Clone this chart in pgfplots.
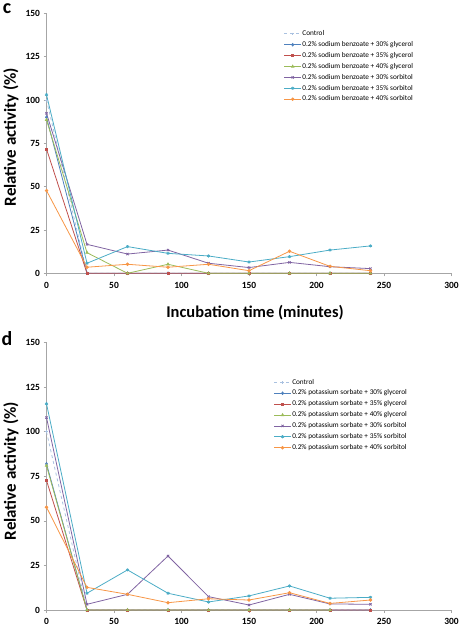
\documentclass[border=0pt]{standalone}
\usepackage{pgfplots}
\pgfplotsset{compat=1.18}
\usepackage{fontspec}
\setmainfont{Carlito}
\definecolor{cblue}{HTML}{4F81BD}
\definecolor{cred}{HTML}{C0504D}
\definecolor{cgreen}{HTML}{9BBB59}
\definecolor{cpurple}{HTML}{8064A2}
\definecolor{ccyan}{HTML}{4BACC6}
\definecolor{corange}{HTML}{F79646}
\definecolor{cctrl}{HTML}{A9C1E0}
\definecolor{axgray}{HTML}{A6A6A6}
\pgfplotsset{
  panel/.style={
    scale only axis, width=405bp,
    xmin=0, xmax=300, ymin=0, ymax=150,
    xtick={0,50,...,300}, ytick={0,25,...,150},
    axis x line*=bottom, axis y line*=left,
    axis line style={axgray, line width=0.8pt},
    tick style={axgray, line width=0.6pt}, tick align=outside,
    major tick length=3bp,
    /pgf/number format/assume math mode=true,
    tick label style={font=\bfseries\fontsize{9.5}{9.5}\selectfont},
    clip=false,
    every axis plot/.append style={line width=0.8pt, mark size=1.3pt},
    legend cell align=left,
    legend style={draw=none, fill=none, anchor=north west,
      font=\fontsize{7.3}{7.3}\selectfont, row sep=2.8bp,
      nodes={inner sep=0.8pt, text height=5bp, text depth=1.5bp}},
  },
  sctrl/.style={cctrl, dashed, mark=+, mark options={solid}},
  sblue/.style={cblue, mark=diamond*},
  sred/.style={cred, mark=square*, mark size=1.1pt},
  sgreen/.style={cgreen, mark=triangle*},
  spurple/.style={cpurple, mark=x, mark size=1.6pt},
  scyan/.style={ccyan, mark=asterisk, mark size=1.6pt},
  sorange/.style={corange, mark=*},
}
\begin{document}
\begin{tikzpicture}[x=1bp,y=1bp]
\useasboundingbox (0,0) rectangle (471,628);
% panel c
\begin{axis}[panel, height=260bp, at={(46.5bp,354.7bp)}, anchor=south west,
  xticklabel style={yshift=-2bp},
  legend style={at={(0.578,0.945)}}]
\addplot[sctrl] coordinates {(0,100)(30,0)(60,0)(90,0)(120,0)(150,0)(180,0)(210,0)(240,0)};
\addplot[sblue] coordinates {(0,90)(30,0)(60,0)(90,0)(120,0)(150,0)(180,0)(210,0)(240,0)};
\addplot[sred] coordinates {(0,71.7)(30,0)(60,0)(90,0)(120,0)(150,0)(180,0)(210,0)(240,0)};
\addplot[sgreen] coordinates {(0,88.5)(30,11.9)(60,0)(90,5.2)(120,0)(150,0)(180,0)(210,0)(240,0)};
\addplot[spurple] coordinates {(0,92.3)(30,16.7)(60,11.1)(90,13.4)(120,5.8)(150,3.3)(180,6.3)(210,3.8)(240,2.7)};
\addplot[scyan] coordinates {(0,103)(30,5.8)(60,15.4)(90,11.5)(120,10)(150,6.5)(180,9.6)(210,13.4)(240,15.8)};
\addplot[sorange] coordinates {(0,47.7)(30,3.5)(60,5.2)(90,3.5)(120,5.2)(150,1.5)(180,12.7)(210,4)(240,1.5)};
\legend{Control,
0.2\% sodium benzoate + 30\% glycerol,
0.2\% sodium benzoate + 35\% glycerol,
0.2\% sodium benzoate + 40\% glycerol,
0.2\% sodium benzoate + 30\% sorbitol,
0.2\% sodium benzoate + 35\% sorbitol,
0.2\% sodium benzoate + 40\% sorbitol}
\end{axis}
% panel d
\begin{axis}[panel, height=267.3bp, at={(46.5bp,18bp)}, anchor=south west,
  xticklabel style={yshift=-2bp},
  legend style={at={(0.553,0.875)}}]
\addplot[sctrl] coordinates {(0,100)(30,0)(60,0)(90,0)(120,0)(150,0)(180,0)(210,0)(240,0)};
\addplot[sblue] coordinates {(0,82)(30,0)(60,0)(90,0)(120,0)(150,0)(180,0)(210,0)(240,0)};
\addplot[sred] coordinates {(0,72.7)(30,0)(60,0)(90,0)(120,0)(150,0)(180,0)(210,0)(240,0)};
\addplot[sgreen] coordinates {(0,81)(30,0)(60,0)(90,0)(120,0)(150,0)(180,0)(210,0)};
\addplot[spurple] coordinates {(0,108)(30,3.2)(60,8.8)(90,30.3)(120,7.5)(150,2.8)(180,8.8)(210,3.4)(240,3.2)};
\addplot[scyan] coordinates {(0,115.7)(30,9.4)(60,22.5)(90,9.4)(120,4.5)(150,7.9)(180,13.5)(210,6.6)(240,7.1)};
\addplot[sorange] coordinates {(0,57.7)(30,12.7)(60,8.8)(90,4.1)(120,6.3)(150,5.6)(180,9.7)(210,3.7)(240,5.6)};
\legend{Control,
0.2\% potassium sorbate + 30\% glycerol,
0.2\% potassium sorbate + 35\% glycerol,
0.2\% potassium sorbate + 40\% glycerol,
0.2\% potassium sorbate + 30\% sorbitol,
0.2\% potassium sorbate + 35\% sorbitol,
0.2\% potassium sorbate + 40\% sorbitol}
\end{axis}
% labels
\node[font=\bfseries\fontsize{16.5}{16.5}\selectfont] at (255,628-313) {Incubation time (minutes)};
\node[font=\bfseries\fontsize{17}{17}\selectfont, rotate=90] at (11,628-137) {Relative activity (\%)};
\node[font=\bfseries\fontsize{17}{17}\selectfont, rotate=90] at (11,628-471) {Relative activity (\%)};
\node[font=\bfseries\fontsize{20}{20}\selectfont] at (7,628-9) {c};
\node[font=\bfseries\fontsize{20}{20}\selectfont] at (7,628-339) {d};
\end{tikzpicture}
\end{document}
